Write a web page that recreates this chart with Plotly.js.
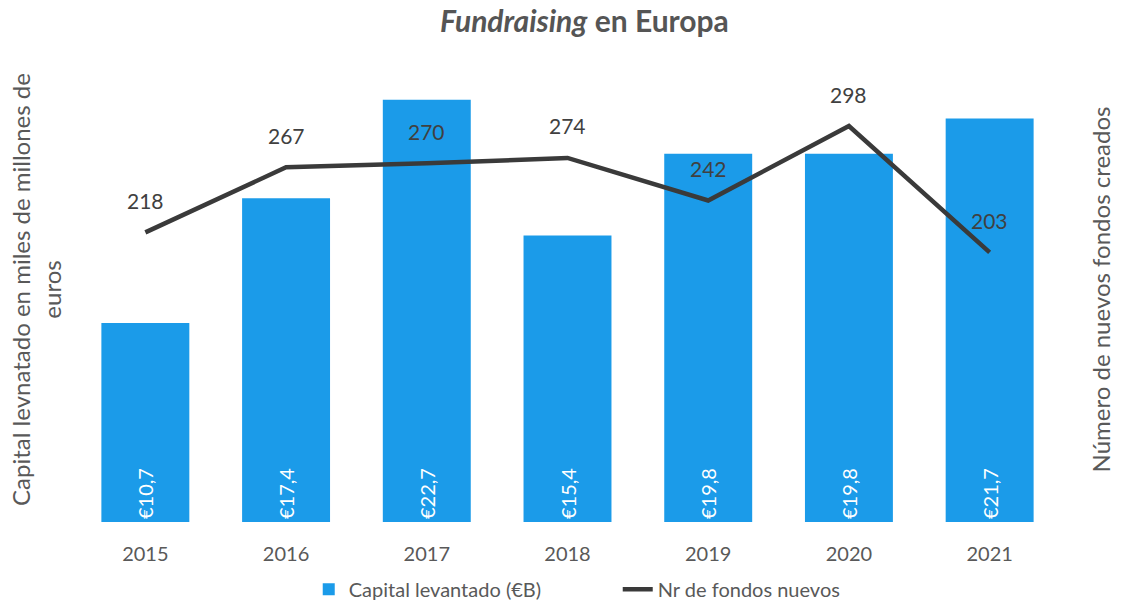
<!DOCTYPE html>
<html>
<head>
<meta charset="utf-8">
<script src="https://cdn.plot.ly/plotly-3.0.1.min.js"></script>
<style>html,body{margin:0;padding:0;background:#fff;}#chart{width:1124px;height:605px;}</style>
</head>
<body>
<div id="chart"></div>
<script>
const years = ['2015','2016','2017','2018','2019','2020','2021'];
const capital = [10.7, 17.4, 22.7, 15.4, 19.8, 19.8, 21.7];
const fondos = [218, 267, 270, 274, 242, 298, 203];
const capitalLabels = capital.map(v => '€' + v.toFixed(1).replace('.', ','));

const font = 'Lato, "Open Sans", sans-serif';
const grey = '#595959';

const traces = [
  {
    type: 'bar', name: 'Capital levantado (€B)', x: years, y: capital,
    marker: {color: '#1b9be9'},
    text: capitalLabels, textposition: 'inside', insidetextanchor: 'start',
    textangle: -90, textfont: {color: '#ffffff', size: 20, family: font},
    hoverinfo: 'skip'
  },
  {
    type: 'scatter', mode: 'lines', name: 'Nr de fondos nuevos', x: years, y: fondos,
    yaxis: 'y2', line: {color: '#3a3a3a', width: 4.5}, hoverinfo: 'skip'
  }
];

const annotations = years.map((yr, i) => ({
  x: i, y: fondos[i], xref: 'x', yref: 'y2', text: String(fondos[i]),
  showarrow: false, yshift: 32, font: {size: 21, color: '#404040', family: font}
}));

const layout = {
  width: 1124, height: 605,
  paper_bgcolor: '#ffffff', plot_bgcolor: '#ffffff',
  margin: {l: 75, r: 64, t: 57, b: 83},
  font: {family: font, color: grey},
  title: {text: '<b><i>Fundraising</i> en Europa</b>', x: 0.52, xanchor: 'center', y: 0.965, yanchor: 'middle',
          font: {size: 30, color: '#555555', family: font}},
  bargap: 0.375,
  showlegend: true,
  legend: {orientation: 'h', x: 0.551, xanchor: 'center', yref: 'container', y: 0.026, yanchor: 'middle',
           entrywidth: 264, entrywidthmode: 'pixels',
           font: {size: 20, color: grey, family: font}},
  xaxis: {type: 'category', range: [-0.5, 6.5], showgrid: false, zeroline: false, showline: false, automargin: false,
          tickfont: {size: 20, color: grey}, ticks: 'outside', ticklen: 14, tickcolor: 'rgba(0,0,0,0)'},
  yaxis: {range: [0, 25], showgrid: false, zeroline: false, showticklabels: false, ticks: '', automargin: false,
          title: {text: 'Capital levnatado en miles de millones de<br>euros', standoff: 5,
                  font: {size: 24, color: grey, family: font}}},
  yaxis2: {range: [0, 350], overlaying: 'y', side: 'right', showgrid: false, zeroline: false, automargin: false,
           showticklabels: false, ticks: '',
           title: {text: 'Número de nuevos fondos creados', standoff: 33,
                   font: {size: 24, color: grey, family: font}}},
  annotations: annotations
};

Plotly.newPlot('chart', traces, layout, {displayModeBar: false, staticPlot: true});
</script>
</body>
</html>
